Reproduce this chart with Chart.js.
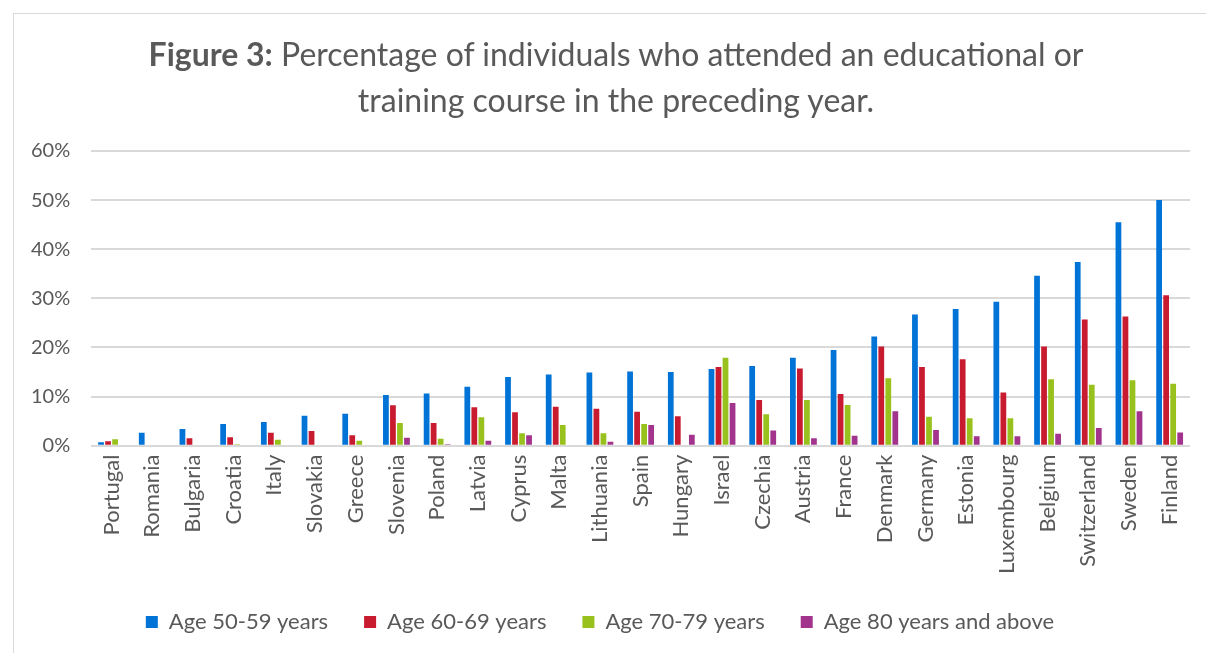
<!DOCTYPE html>
<html>
<head>
<meta charset="utf-8">
<script src="https://cdn.jsdelivr.net/npm/chart.js@4.4.0/dist/chart.umd.min.js"></script>
<style>
  body { margin:0; background:#fff; font-family: Lato, "Open Sans", sans-serif; }
  #frame { position:absolute; left:13px; top:13px; width:1200px; height:650px; border:1px solid #d9d9d9; }
  #title { position:absolute; left:0; top:31px; width:1232px; text-align:center; color:#595959; font-size:32px; line-height:46px; }
  #wrap { position:absolute; left:0; top:0; width:1206px; height:653px; }
</style>
</head>
<body>
<div id="frame"></div>
<div id="wrap"><canvas id="chart"></canvas></div>
<div id="title"><b>Figure 3:</b> Percentage of individuals who attended an educational or<br>training course in the preceding year.</div>
<script>
const countries = ['Portugal','Romania','Bulgaria','Croatia','Italy','Slovakia','Greece','Slovenia','Poland','Latvia','Cyprus','Malta','Lithuania','Spain','Hungary','Israel','Czechia','Austria','France','Denmark','Germany','Estonia','Luxembourg','Belgium','Switzerland','Sweden','Finland'];

const age5059 = [0.7,2.6,3.4,4.4,4.8,6.1,6.5,10.3,10.6,12.0,14.0,14.5,14.9,15.1,15.0,15.6,16.2,17.9,19.5,22.2,26.7,27.8,29.3,34.6,37.4,45.5,50.0];
const age6069 = [0.9,0.2,1.5,1.7,2.6,3.0,2.1,8.2,4.6,7.8,6.8,7.9,7.5,6.9,6.0,16.0,9.3,15.7,10.5,20.2,16.0,17.6,10.8,20.2,25.7,26.3,30.6];
const age7079 = [1.3,0,0,0.3,1.2,0,1.0,4.6,1.4,5.8,2.5,4.2,2.5,4.4,0,17.9,6.4,9.3,8.3,13.7,5.9,5.6,5.6,13.5,12.4,13.3,12.6];
const age80 = [0,0,0,0,0.2,0,0,1.6,0.3,1.0,2.1,0,0.8,4.2,2.2,8.7,3.1,1.5,2.0,7.0,3.2,1.9,1.9,2.4,3.6,7.0,2.7];

const seriesNames = ['Age 50-59 years','Age 60-69 years','Age 70-79 years','Age 80 years and above'];
const colors = ['#0073D6','#C81B30','#98C11E','#A2348D'];
const yTicks = [0,10,20,30,40,50,60];

const txt = '#595959';
const series = [age5059, age6069, age7079, age80];

new Chart(document.getElementById('chart'), {
  type: 'bar',
  data: {
    labels: countries,
    datasets: series.map((s, i) => ({
      label: seriesNames[i],
      data: s,
      backgroundColor: colors[i],
      categoryPercentage: 0.69,
      barPercentage: 0.82
    }))
  },
  options: {
    responsive: true,
    maintainAspectRatio: false,
    animation: false,
    layout: { padding: { top: 151, left: 10, right: 16, bottom: 10 } },
    plugins: {
      title: { display: false },
      tooltip: { enabled: false },
      legend: {
        position: 'bottom',
        labels: {
          color: txt,
          font: { family: 'Lato', size: 22 },
          boxWidth: 12, boxHeight: 12,
          padding: 36
        }
      }
    },
    scales: {
      x: {
        grid: { display: false },
        border: { display: false },
        ticks: { color: txt, font: { family: 'Lato', size: 22 }, padding: 1, maxRotation: 90, minRotation: 90, autoSkip: false }
      },
      y: {
        min: 0, max: 60,
        afterBuildTicks: ax => { ax.ticks = yTicks.map(v => ({ value: v })); },
        grid: { color: '#d9d9d9', lineWidth: 2, drawTicks: false },
        border: { display: false },
        ticks: { color: txt, font: { family: 'Lato', size: 20 }, padding: 21, callback: v => v + '%' }
      }
    }
  }
});
</script>
</body>
</html>
